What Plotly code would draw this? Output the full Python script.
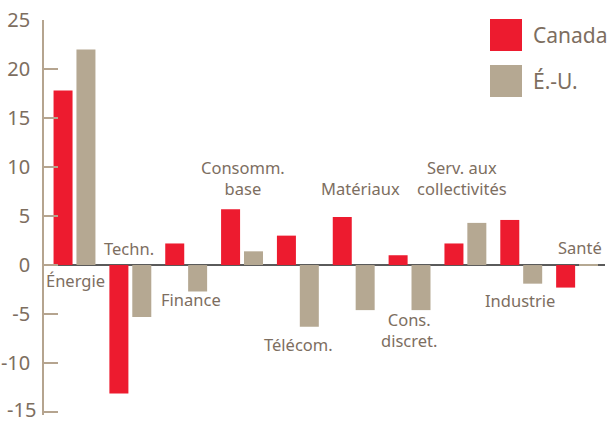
import plotly.graph_objects as go

categories = ["Énergie", "Techn.", "Finance", "Consomm. base", "Télécom.", "Matériaux",
              "Cons. discret.", "Serv. aux collectivités", "Industrie", "Santé"]
label_texts = ["Énergie", "Techn.", "Finance", "Consomm.<br>base", "Télécom.", "Matériaux",
               "Cons.<br>discret.", "Serv. aux<br>collectivités", "Industrie", "Santé"]
canada = [17.8, -13.1, 2.2, 5.7, 3.0, 4.9, 1.0, 2.2, 4.6, -2.3]
usa = [22.0, -5.3, -2.7, 1.4, -6.3, -4.6, -4.6, 4.3, -1.9, 0.1]
label_y = [-1.6, 1.7, -3.5, 8.9, -8.1, 7.8, -6.6, 8.9, -3.6, 1.8]
label_xshift = [1, -1, 5, 1, 1, 7, -1, -3, -1, 3]
y_ticks = [-15, -10, -5, 0, 5, 10, 15, 20, 25]

RED = "#ED1B2F"
TAN = "#B5A892"
TXT = "#7D6E5F"
FONT = "Noto Sans"

W, H = 615, 421
L, R, T, B = 44, 10, 20, 6
PW, PH = W - L - R, H - T - B


def px(x):
    return (x - L) / PW


def py(y):
    return (H - B - y) / PH


fig = go.Figure()
fig.add_trace(go.Bar(x=categories, y=canada, name="Canada", marker_color=RED, marker_line_width=0))
fig.add_trace(go.Bar(x=categories, y=usa, name="É.-U.", marker_color=TAN, marker_line_width=0))

for cat, txt, yv, xs in zip(categories, label_texts, label_y, label_xshift):
    fig.add_annotation(x=cat, y=yv, text=txt, showarrow=False, xshift=xs,
                       font=dict(family=FONT, size=16.5, color=TXT), align="center")

# bottom tick label (Plotly hides it because it touches the page edge)
tick_text = [str(v) for v in y_ticks]
tick_text[0] = ""
fig.add_annotation(xref="paper", yref="y", x=0, y=y_ticks[0], text=str(y_ticks[0]),
                   showarrow=False, xanchor="right", yanchor="middle", xshift=-6, yshift=3,
                   font=dict(family=FONT, size=20, color=TXT))

# legend swatches
fig.add_shape(type="rect", xref="paper", yref="paper", x0=px(490), x1=px(522),
              y0=py(51), y1=py(19), fillcolor=RED, line_width=0)
fig.add_shape(type="rect", xref="paper", yref="paper", x0=px(490), x1=px(522),
              y0=py(97), y1=py(65), fillcolor=TAN, line_width=0)
fig.add_annotation(xref="paper", yref="paper", x=px(531), y=py(35), text="Canada",
                   showarrow=False, xanchor="left", yanchor="middle",
                   font=dict(family=FONT, size=21, color=TXT))
fig.add_annotation(xref="paper", yref="paper", x=px(531), y=py(81), text="É.-U.",
                   showarrow=False, xanchor="left", yanchor="middle",
                   font=dict(family=FONT, size=21, color=TXT))

fig.update_layout(
    width=W, height=H,
    margin=dict(l=L, r=R, t=T, b=B, autoexpand=False),
    paper_bgcolor="white", plot_bgcolor="white",
    barmode="group", bargap=0.18, bargroupgap=0.17,
    showlegend=False,
    font=dict(family=FONT, color=TXT),
    xaxis=dict(visible=False, automargin=False),
    yaxis=dict(range=[-15.3, 25], tickvals=y_ticks, ticktext=tick_text,
               automargin=False,
               showgrid=False, showline=True, linecolor="#B5A48F", linewidth=1.5,
               ticks="inside", ticklen=14, tickwidth=1.5, tickcolor="#B5A48F",
               tickfont=dict(family=FONT, size=20, color=TXT),
               zeroline=True, zerolinecolor="#5A5A5A", zerolinewidth=1.5,
               ticklabelstandoff=8),
)

fig.write_html("out.html", config={"displayModeBar": False},
               post_script="document.body.style.margin='0';document.body.style.overflow='hidden';")
